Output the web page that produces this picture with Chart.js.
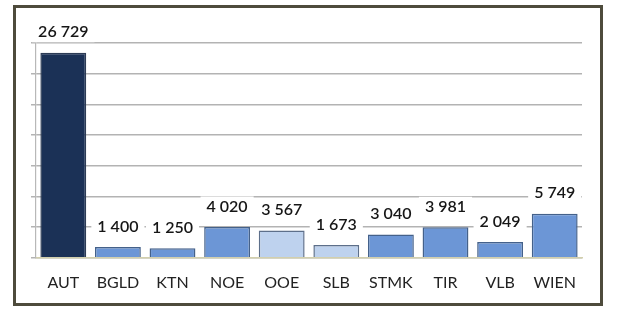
<!DOCTYPE html>
<html>
<head>
<meta charset="utf-8">
<script src="https://cdn.jsdelivr.net/npm/chart.js@4/dist/chart.umd.min.js"></script>
<style>
  html, body { margin: 0; padding: 0; background: #ffffff; }
  #wrap { position: relative; width: 617px; height: 310px; }
  #c { position: absolute; left: 0; top: 0; }
  #frame {
    position: absolute; left: 13px; top: 5px; width: 590px; height: 301px;
    box-sizing: border-box; border: 3px solid #4e4b3c; pointer-events: none;
  }
</style>
</head>
<body>
<div id="wrap">
  <canvas id="c" width="617" height="310"></canvas>
  <div id="frame"></div>
</div>
<script>
const categories = ["AUT", "BGLD", "KTN", "NOE", "OOE", "SLB", "STMK", "TIR", "VLB", "WIEN"];
const values = [26729, 1400, 1250, 4020, 3567, 1673, 3040, 3981, 2049, 5749];
const shade = ["dark", "mid", "mid", "mid", "light", "light", "mid", "mid", "mid", "mid"];

const fillOf = { dark: "#1b3156", mid: "#6c96d6", light: "#bed2ee" };
const edgeOf = { dark: "#2c3b55", mid: "#44618a", light: "#5d6f8a" };

function fmt(v) {
  return String(v).replace(/\B(?=(\d{3})+(?!\d))/g, " ");
}

const labelFont = "600 16px Lato";
const labelPlugin = {
  id: "valueLabels",
  beforeDatasetsDraw(chart) {
    const ctx = chart.ctx;
    const meta = chart.getDatasetMeta(0);
    ctx.save();
    ctx.font = labelFont;
    ctx.fillStyle = "#ffffff";
    meta.data.forEach((bar, i) => {
      const t = fmt(values[i]);
      const w = ctx.measureText(t).width + 12;
      const cy = bar.y - 20.5;
      ctx.fillRect(bar.x - w / 2, cy - 10, w, 20);
    });
    ctx.restore();
  },
  afterDatasetsDraw(chart) {
    const ctx = chart.ctx;
    const meta = chart.getDatasetMeta(0);
    ctx.save();
    ctx.font = labelFont;
    ctx.fillStyle = "#161616";
    ctx.textAlign = "center";
    ctx.textBaseline = "middle";
    meta.data.forEach((bar, i) => {
      ctx.fillText(fmt(values[i]), bar.x, bar.y - 20.5);
    });
    ctx.restore();
  }
};

new Chart(document.getElementById("c"), {
  type: "bar",
  data: {
    labels: categories,
    datasets: [{
      data: values,
      backgroundColor: shade.map(s => fillOf[s]),
      borderColor: shade.map(s => edgeOf[s]),
      borderWidth: 1.5,
      barPercentage: 0.84,
      categoryPercentage: 1.0
    }]
  },
  options: {
    responsive: false,
    animation: false,
    events: [],
    layout: { padding: { top: 43, left: 31, right: 35, bottom: 3 } },
    plugins: { legend: { display: false }, tooltip: { enabled: false } },
    scales: {
      x: {
        grid: { display: false, drawTicks: false },
        border: { display: true, color: "#d2cfad", width: 1.5 },
        ticks: { color: "#222222", font: { family: "Lato", size: 16 }, padding: 15 }
      },
      y: {
        min: 0,
        max: 28000,
        ticks: { display: false, stepSize: 4000 },
        grid: { color: "#b3b3b3", lineWidth: 1.5, tickLength: 5, drawTicks: true },
        border: { display: true, color: "#b8b8b8", width: 1.2 }
      }
    }
  },
  plugins: [labelPlugin]
});
</script>
</body>
</html>
